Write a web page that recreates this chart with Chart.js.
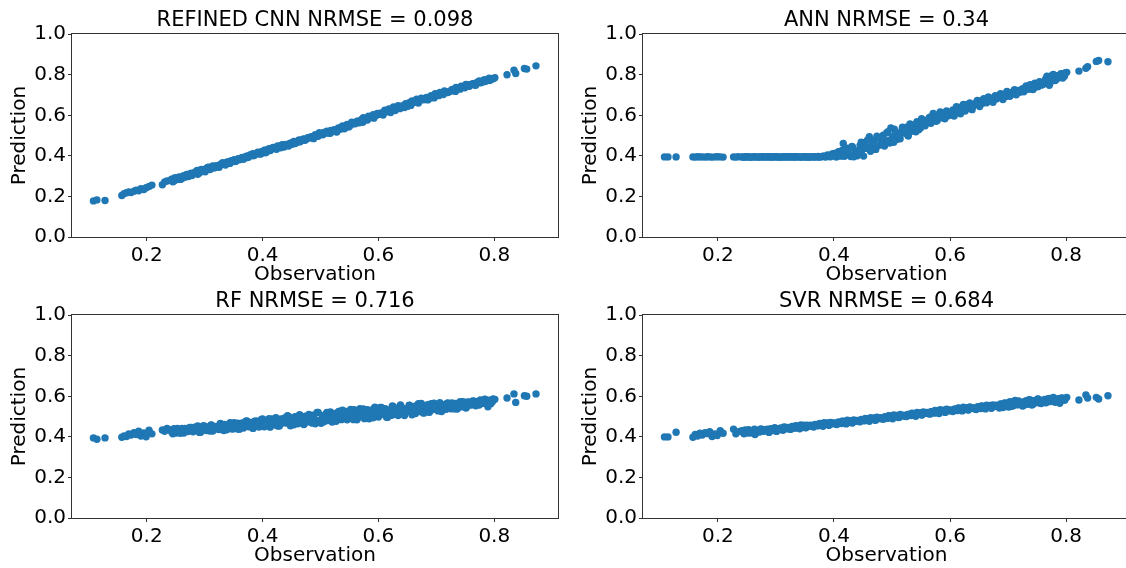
<!DOCTYPE html>
<html>
<head>
<meta charset="utf-8">
<script src="https://cdn.jsdelivr.net/npm/chart.js@4"></script>
<style>
  html, body { margin: 0; padding: 0; background: #fff; overflow: hidden; }
  body { width: 1126px; height: 568px; position: relative; }
  canvas { position: absolute; }
</style>
</head>
<body>
<canvas id="cnn" width="563" height="287" style="left:0;top:0"></canvas>
<canvas id="ann" width="580" height="287" style="left:563px;top:0"></canvas>
<canvas id="rf" width="563" height="287" style="left:0;top:281px"></canvas>
<canvas id="svr" width="580" height="287" style="left:563px;top:281px"></canvas>
<script>
// observed values shared by all four models (two interleaved sample blocks)
const observation = [
  0.108, 0.114, 0.128,
  0.157, 0.161, 0.165, 0.169, 0.173, 0.178, 0.182, 0.186, 0.190, 0.195, 0.199, 0.204, 0.209,
  0.227, 0.231, 0.235,
  0.241, 0.245, 0.248, 0.253, 0.256, 0.261, 0.264, 0.269, 0.272, 0.277,
  0.280, 0.285, 0.288, 0.293, 0.296, 0.301, 0.304, 0.309, 0.312, 0.317,
  0.320, 0.325, 0.328, 0.333, 0.336, 0.341, 0.344, 0.349, 0.352, 0.357,
  0.360, 0.365, 0.368, 0.373, 0.376, 0.381, 0.384, 0.389, 0.392, 0.397,
  0.400, 0.405, 0.408, 0.413, 0.416, 0.421, 0.424, 0.429, 0.432, 0.437,
  0.440, 0.445, 0.448, 0.453, 0.456, 0.461, 0.464, 0.469, 0.472, 0.477,
  0.480, 0.485, 0.488, 0.493, 0.496, 0.501, 0.504, 0.509, 0.512, 0.517,
  0.520, 0.525, 0.528, 0.533, 0.536, 0.541, 0.544, 0.549, 0.552, 0.557,
  0.560, 0.565, 0.568, 0.573, 0.576, 0.581, 0.584, 0.589, 0.592, 0.597,
  0.600, 0.605, 0.608, 0.613, 0.616, 0.621, 0.624, 0.629, 0.632, 0.637,
  0.640, 0.645, 0.648, 0.653, 0.656, 0.661, 0.664, 0.669, 0.672, 0.677,
  0.680, 0.685, 0.688, 0.693, 0.696, 0.701, 0.704, 0.709, 0.712, 0.717,
  0.720, 0.725, 0.728, 0.733, 0.736, 0.741, 0.744, 0.749, 0.752, 0.757,
  0.760, 0.765, 0.768, 0.773, 0.776, 0.781, 0.784, 0.789, 0.792, 0.797,
  0.801,
  0.822, 0.834, 0.837, 0.852, 0.856, 0.872,
  // second block
  0.243, 0.247, 0.251, 0.254, 0.258, 0.263, 0.266, 0.271, 0.274, 0.278,
  0.283, 0.287, 0.291, 0.294, 0.298, 0.303, 0.306, 0.311, 0.314, 0.318,
  0.323, 0.327, 0.331, 0.334, 0.338, 0.343, 0.346, 0.351, 0.354, 0.358,
  0.363, 0.367, 0.371, 0.374, 0.378, 0.383, 0.386, 0.391, 0.394, 0.398,
  0.403, 0.407, 0.411, 0.414, 0.418, 0.423, 0.426, 0.431, 0.434, 0.438,
  0.443, 0.447, 0.451, 0.454, 0.458, 0.463, 0.466, 0.471, 0.474, 0.478,
  0.483, 0.487, 0.491, 0.494, 0.498, 0.503, 0.506, 0.511, 0.514, 0.518,
  0.523, 0.527, 0.531, 0.534, 0.538, 0.543, 0.546, 0.551, 0.554, 0.558,
  0.563, 0.567, 0.571, 0.574, 0.578, 0.583, 0.586, 0.591, 0.594, 0.598,
  0.603, 0.607, 0.611, 0.614, 0.618, 0.623, 0.626, 0.631, 0.634, 0.638,
  0.643, 0.647, 0.651, 0.654, 0.658, 0.663, 0.666, 0.671, 0.674, 0.678,
  0.683, 0.687, 0.691, 0.694, 0.698, 0.703, 0.706, 0.711, 0.714, 0.718,
  0.723, 0.727, 0.731, 0.734, 0.738, 0.743, 0.746, 0.751, 0.754, 0.758,
  0.763, 0.767, 0.771, 0.774, 0.778, 0.783, 0.786, 0.791, 0.794, 0.798
];

const cnnPred = [
  0.178, 0.183, 0.180,
  0.205, 0.214, 0.218, 0.222, 0.219, 0.226, 0.231, 0.228, 0.238, 0.234, 0.243, 0.249, 0.256,
  0.258, 0.272, 0.276,
  0.279, 0.272, 0.291, 0.283, 0.296, 0.288, 0.301, 0.309, 0.298, 0.315,
  0.313, 0.322, 0.309, 0.327, 0.331, 0.322, 0.339, 0.333, 0.346, 0.341,
  0.352, 0.344, 0.359, 0.362, 0.355, 0.371, 0.364, 0.377, 0.372, 0.383,
  0.381, 0.392, 0.388, 0.399, 0.394, 0.406, 0.401, 0.412, 0.418, 0.409,
  0.421, 0.415, 0.431, 0.426, 0.437, 0.442, 0.433, 0.447, 0.452, 0.444,
  0.456, 0.449, 0.463, 0.468, 0.461, 0.474, 0.469, 0.481, 0.477, 0.486,
  0.488, 0.494, 0.485, 0.501, 0.497, 0.509, 0.504, 0.513, 0.519, 0.511,
  0.522, 0.529, 0.518, 0.535, 0.541, 0.534, 0.548, 0.543, 0.556, 0.561,
  0.559, 0.568, 0.574, 0.566, 0.582, 0.577, 0.589, 0.594, 0.586, 0.601,
  0.604, 0.611, 0.601, 0.617, 0.622, 0.614, 0.629, 0.624, 0.637, 0.633,
  0.645, 0.638, 0.652, 0.657, 0.649, 0.663, 0.668, 0.661, 0.674, 0.679,
  0.682, 0.676, 0.689, 0.694, 0.686, 0.701, 0.697, 0.708, 0.703, 0.714,
  0.712, 0.721, 0.727, 0.718, 0.733, 0.729, 0.741, 0.736, 0.748, 0.743,
  0.752, 0.757, 0.749, 0.764, 0.760, 0.771, 0.767, 0.776, 0.772, 0.781,
  0.785,
  0.800, 0.823, 0.806, 0.831, 0.828, 0.844,
  0.285, 0.276, 0.292, 0.289, 0.284, 0.301, 0.295, 0.305, 0.311, 0.303,
  0.318, 0.328, 0.316, 0.333, 0.326, 0.338, 0.344, 0.336, 0.350, 0.343,
  0.347, 0.357, 0.366, 0.358, 0.369, 0.363, 0.376, 0.381, 0.373, 0.386,
  0.389, 0.383, 0.397, 0.392, 0.404, 0.411, 0.403, 0.415, 0.409, 0.421,
  0.428, 0.419, 0.435, 0.429, 0.441, 0.436, 0.449, 0.440, 0.455, 0.449,
  0.452, 0.461, 0.457, 0.471, 0.465, 0.478, 0.473, 0.484, 0.478, 0.490,
  0.493, 0.489, 0.505, 0.498, 0.514, 0.507, 0.516, 0.522, 0.512, 0.526,
  0.528, 0.520, 0.538, 0.531, 0.548, 0.539, 0.555, 0.550, 0.566, 0.558,
  0.571, 0.563, 0.580, 0.588, 0.579, 0.596, 0.590, 0.603, 0.598, 0.609,
  0.610, 0.607, 0.625, 0.618, 0.632, 0.627, 0.641, 0.635, 0.647, 0.642,
  0.648, 0.657, 0.645, 0.663, 0.671, 0.665, 0.680, 0.674, 0.685, 0.677,
  0.688, 0.681, 0.697, 0.691, 0.706, 0.699, 0.713, 0.709, 0.720, 0.712,
  0.718, 0.726, 0.722, 0.737, 0.731, 0.744, 0.739, 0.752, 0.745, 0.751,
  0.756, 0.748, 0.763, 0.769, 0.762, 0.776, 0.771, 0.783, 0.777, 0.780
];

const annPred = [
  0.395, 0.395, 0.395,
  0.395, 0.394, 0.396, 0.395, 0.395, 0.394, 0.396, 0.395, 0.394, 0.395, 0.396, 0.395, 0.394,
  0.395, 0.394, 0.396,
  0.395, 0.394, 0.396, 0.395, 0.394, 0.395, 0.396, 0.394, 0.395, 0.396,
  0.394, 0.395, 0.396, 0.395, 0.394, 0.396, 0.395, 0.394, 0.395, 0.396,
  0.395, 0.394, 0.396, 0.395, 0.396, 0.394, 0.395, 0.396, 0.394, 0.395,
  0.395, 0.396, 0.395, 0.397, 0.395, 0.399, 0.396, 0.404, 0.397, 0.409,
  0.412, 0.396, 0.421, 0.399, 0.461, 0.405, 0.434, 0.397, 0.443, 0.414,
  0.401, 0.452, 0.428, 0.466, 0.437, 0.494, 0.448, 0.476, 0.432, 0.489,
  0.458, 0.502, 0.471, 0.519, 0.463, 0.495, 0.532, 0.482, 0.511, 0.526,
  0.512, 0.541, 0.498, 0.528, 0.552, 0.519, 0.561, 0.537, 0.573, 0.548,
  0.566, 0.591, 0.578, 0.603, 0.571, 0.596, 0.612, 0.586, 0.608, 0.598,
  0.602, 0.627, 0.611, 0.636, 0.618, 0.645, 0.629, 0.652, 0.634, 0.643,
  0.646, 0.662, 0.654, 0.671, 0.659, 0.678, 0.668, 0.685, 0.674, 0.689,
  0.681, 0.697, 0.688, 0.704, 0.693, 0.712, 0.699, 0.716, 0.706, 0.723,
  0.714, 0.731, 0.722, 0.741, 0.728, 0.747, 0.736, 0.754, 0.743, 0.762,
  0.752, 0.781, 0.791, 0.763, 0.798, 0.772, 0.795, 0.786, 0.802, 0.793,
  0.812,
  0.818, 0.832, 0.840, 0.866, 0.870, 0.864,
  0.394, 0.395, 0.396, 0.395, 0.394, 0.396, 0.395, 0.394, 0.395, 0.396,
  0.395, 0.396, 0.394, 0.395, 0.396, 0.395, 0.394, 0.395, 0.396, 0.394,
  0.396, 0.395, 0.394, 0.396, 0.395, 0.394, 0.395, 0.396, 0.395, 0.394,
  0.395, 0.396, 0.395, 0.394, 0.396, 0.398, 0.395, 0.401, 0.396, 0.403,
  0.396, 0.418, 0.401, 0.427, 0.398, 0.438, 0.409, 0.446, 0.396, 0.425,
  0.416, 0.468, 0.399, 0.441, 0.479, 0.423, 0.458, 0.437, 0.497, 0.452,
  0.489, 0.449, 0.514, 0.476, 0.538, 0.467, 0.509, 0.493, 0.484, 0.541,
  0.534, 0.503, 0.557, 0.521, 0.545, 0.569, 0.529, 0.583, 0.553, 0.566,
  0.583, 0.561, 0.609, 0.589, 0.574, 0.617, 0.601, 0.583, 0.622, 0.606,
  0.614, 0.597, 0.642, 0.624, 0.608, 0.654, 0.621, 0.639, 0.661, 0.628,
  0.654, 0.673, 0.643, 0.666, 0.682, 0.662, 0.691, 0.677, 0.664, 0.697,
  0.689, 0.707, 0.678, 0.699, 0.718, 0.694, 0.709, 0.726, 0.701, 0.716,
  0.726, 0.716, 0.745, 0.733, 0.751, 0.727, 0.758, 0.741, 0.766, 0.749,
  0.767, 0.793, 0.748, 0.784, 0.801, 0.777, 0.790, 0.805, 0.784, 0.809
];

const rfPred = [
  0.395, 0.388, 0.395,
  0.398, 0.405, 0.402, 0.414, 0.409, 0.421, 0.412, 0.428, 0.404, 0.419, 0.401, 0.433, 0.415,
  0.434, 0.428, 0.441,
  0.434, 0.415, 0.429, 0.442, 0.425, 0.441, 0.419, 0.436, 0.430, 0.446,
  0.425, 0.443, 0.454, 0.423, 0.440, 0.452, 0.436, 0.429, 0.457, 0.447,
  0.451, 0.436, 0.464, 0.431, 0.459, 0.447, 0.470, 0.439, 0.454, 0.468,
  0.438, 0.469, 0.456, 0.479, 0.450, 0.465, 0.442, 0.479, 0.472, 0.453,
  0.489, 0.461, 0.480, 0.448, 0.489, 0.459, 0.475, 0.454, 0.488, 0.473,
  0.468, 0.501, 0.455, 0.486, 0.500, 0.465, 0.509, 0.482, 0.464, 0.498,
  0.511, 0.468, 0.499, 0.481, 0.520, 0.467, 0.495, 0.512, 0.481, 0.523,
  0.473, 0.515, 0.497, 0.527, 0.485, 0.508, 0.525, 0.493, 0.535, 0.485,
  0.521, 0.495, 0.539, 0.508, 0.490, 0.534, 0.489, 0.522, 0.540, 0.508,
  0.498, 0.545, 0.514, 0.537, 0.497, 0.525, 0.553, 0.511, 0.536, 0.526,
  0.546, 0.505, 0.537, 0.556, 0.521, 0.548, 0.515, 0.563, 0.533, 0.521,
  0.529, 0.559, 0.522, 0.545, 0.566, 0.538, 0.559, 0.525, 0.557, 0.536,
  0.567, 0.539, 0.553, 0.565, 0.537, 0.574, 0.550, 0.563, 0.546, 0.571,
  0.557, 0.576, 0.553, 0.571, 0.582, 0.566, 0.586, 0.548, 0.581, 0.575,
  0.585,
  0.592, 0.612, 0.570, 0.603, 0.600, 0.612,
  0.424, 0.440, 0.419, 0.435, 0.418, 0.433, 0.441, 0.426, 0.447, 0.431,
  0.448, 0.435, 0.422, 0.448, 0.455, 0.431, 0.446, 0.459, 0.429, 0.445,
  0.438, 0.466, 0.447, 0.461, 0.435, 0.457, 0.440, 0.470, 0.462, 0.438,
  0.461, 0.444, 0.477, 0.454, 0.471, 0.442, 0.477, 0.464, 0.449, 0.486,
  0.450, 0.471, 0.490, 0.460, 0.470, 0.495, 0.454, 0.484, 0.469, 0.493,
  0.504, 0.467, 0.491, 0.460, 0.485, 0.504, 0.480, 0.461, 0.502, 0.474,
  0.482, 0.507, 0.465, 0.520, 0.478, 0.503, 0.474, 0.521, 0.498, 0.489,
  0.514, 0.477, 0.524, 0.500, 0.531, 0.491, 0.484, 0.512, 0.500, 0.534,
  0.484, 0.520, 0.502, 0.538, 0.495, 0.529, 0.519, 0.494, 0.546, 0.515,
  0.545, 0.511, 0.539, 0.497, 0.530, 0.507, 0.549, 0.523, 0.505, 0.557,
  0.513, 0.537, 0.528, 0.555, 0.509, 0.551, 0.537, 0.525, 0.565, 0.517,
  0.550, 0.522, 0.563, 0.535, 0.549, 0.528, 0.569, 0.546, 0.536, 0.565,
  0.547, 0.567, 0.538, 0.562, 0.558, 0.548, 0.574, 0.542, 0.572, 0.559,
  0.577, 0.564, 0.575, 0.557, 0.565, 0.585, 0.565, 0.580, 0.563, 0.587
];

const svrPred = [
  0.400, 0.400, 0.423,
  0.398, 0.412, 0.404, 0.418, 0.409, 0.421, 0.416, 0.426, 0.402, 0.414, 0.407, 0.431, 0.418,
  0.438, 0.415, 0.426,
  0.431, 0.415, 0.427, 0.436, 0.419, 0.428, 0.412, 0.433, 0.424, 0.437,
  0.429, 0.438, 0.422, 0.435, 0.441, 0.427, 0.437, 0.444, 0.433, 0.446,
  0.446, 0.437, 0.451, 0.443, 0.454, 0.440, 0.449, 0.457, 0.446, 0.455,
  0.457, 0.449, 0.461, 0.455, 0.466, 0.452, 0.462, 0.469, 0.458, 0.467,
  0.469, 0.461, 0.472, 0.466, 0.477, 0.464, 0.474, 0.480, 0.470, 0.479,
  0.481, 0.474, 0.485, 0.479, 0.490, 0.477, 0.487, 0.493, 0.483, 0.492,
  0.494, 0.487, 0.498, 0.492, 0.503, 0.489, 0.500, 0.506, 0.496, 0.505,
  0.507, 0.500, 0.511, 0.505, 0.516, 0.502, 0.513, 0.519, 0.509, 0.518,
  0.520, 0.512, 0.524, 0.517, 0.529, 0.515, 0.526, 0.532, 0.521, 0.531,
  0.533, 0.525, 0.537, 0.530, 0.541, 0.528, 0.538, 0.544, 0.534, 0.543,
  0.543, 0.535, 0.547, 0.540, 0.551, 0.538, 0.548, 0.555, 0.544, 0.553,
  0.556, 0.542, 0.561, 0.549, 0.566, 0.547, 0.571, 0.553, 0.580, 0.558,
  0.566, 0.552, 0.574, 0.561, 0.583, 0.557, 0.578, 0.569, 0.586, 0.564,
  0.579, 0.568, 0.587, 0.574, 0.590, 0.571, 0.584, 0.566, 0.592, 0.581,
  0.595,
  0.582, 0.607, 0.592, 0.595, 0.587, 0.603,
  0.423, 0.434, 0.419, 0.429, 0.426, 0.438, 0.421, 0.432, 0.439, 0.428,
  0.436, 0.426, 0.440, 0.431, 0.445, 0.434, 0.442, 0.437, 0.449, 0.440,
  0.440, 0.449, 0.444, 0.455, 0.447, 0.459, 0.451, 0.445, 0.458, 0.452,
  0.452, 0.460, 0.456, 0.464, 0.459, 0.470, 0.463, 0.457, 0.471, 0.465,
  0.464, 0.473, 0.468, 0.477, 0.471, 0.482, 0.475, 0.469, 0.484, 0.478,
  0.476, 0.486, 0.481, 0.491, 0.484, 0.495, 0.488, 0.482, 0.497, 0.490,
  0.489, 0.498, 0.494, 0.504, 0.497, 0.508, 0.501, 0.495, 0.510, 0.503,
  0.502, 0.511, 0.507, 0.517, 0.510, 0.521, 0.514, 0.508, 0.523, 0.516,
  0.515, 0.524, 0.520, 0.530, 0.523, 0.534, 0.527, 0.521, 0.536, 0.529,
  0.528, 0.537, 0.533, 0.543, 0.536, 0.546, 0.539, 0.532, 0.547, 0.541,
  0.538, 0.547, 0.543, 0.552, 0.545, 0.556, 0.549, 0.541, 0.557, 0.551,
  0.549, 0.562, 0.545, 0.567, 0.555, 0.574, 0.551, 0.568, 0.559, 0.577,
  0.570, 0.556, 0.578, 0.565, 0.582, 0.561, 0.575, 0.587, 0.567, 0.580,
  0.585, 0.572, 0.589, 0.578, 0.594, 0.576, 0.588, 0.580, 0.591, 0.583
];

const xTicks = [0.2, 0.4, 0.6, 0.8];
const yTicks = [0, 0.2, 0.4, 0.6, 0.8, 1.0];
const X_MIN = 0.071, X_MAX = 0.910;

const FONT = { family: "'DejaVu Sans', sans-serif", size: 20, weight: "normal" };
const TITLE_FONT = { family: "'DejaVu Sans', sans-serif", size: 21, weight: "normal" };
const BLUE = "#1f77b4";
const SPINE = "#333";

// box around the plotting area, like matplotlib spines
const frame = {
  id: "frame",
  afterDatasetsDraw(chart) {
    const { ctx, chartArea: a } = chart;
    ctx.save();
    ctx.strokeStyle = SPINE;
    ctx.lineWidth = 1;
    ctx.strokeRect(Math.round(a.left) - 0.5, Math.round(a.top) - 0.5,
      Math.round(a.right - a.left) + 1, Math.round(a.bottom - a.top) + 1);
    ctx.restore();
  },
};

function scatterPanel(id, title, pred, rightCol) {
  const points = observation.map((x, i) => ({ x, y: pred[i] }));
  new Chart(document.getElementById(id), {
    type: "scatter",
    data: {
      datasets: [{
        data: points,
        backgroundColor: BLUE,
        borderColor: BLUE,
        borderWidth: 0,
        pointRadius: 3.7,
        pointHoverRadius: 3.7,
      }],
    },
    options: {
      responsive: false,
      animation: false,
      events: [],
      layout: { padding: { left: rightCol ? 8 : 0, right: rightCol ? 13 : 5, top: 0, bottom: 0 } },
      plugins: {
        legend: { display: false },
        tooltip: { enabled: false },
        title: {
          display: true, text: title, fullSize: false, color: "#000",
          font: TITLE_FONT, padding: { top: 8, bottom: 1 },
        },
      },
      scales: {
        x: {
          type: "linear", min: X_MIN, max: X_MAX,
          afterBuildTicks: (s) => { s.ticks = xTicks.map((v) => ({ value: v })); },
          afterFit: (s) => { s.height = 50; },
          ticks: { font: FONT, color: "#000", padding: 3, autoSkip: false, maxRotation: 0,
            callback: (v) => v.toFixed(1) },
          grid: { drawOnChartArea: false, drawTicks: true, tickLength: 4, color: SPINE },
          border: { display: false },
          title: { display: true, text: "Observation", font: FONT, color: "#000", padding: 0 },
        },
        y: {
          type: "linear", min: 0, max: 1,
          afterBuildTicks: (s) => { s.ticks = yTicks.map((v) => ({ value: v })); },
          afterFit: (s) => { s.width = 72; },
          ticks: { font: FONT, color: "#000", padding: 2, autoSkip: false,
            callback: (v) => v.toFixed(1) },
          grid: { drawOnChartArea: false, drawTicks: true, tickLength: 4, color: SPINE },
          border: { display: false },
          title: { display: true, text: "Prediction", font: FONT, color: "#000", padding: { top: 8, bottom: 0 } },
        },
      },
    },
    plugins: [frame],
  });
}

scatterPanel("cnn", "REFINED CNN NRMSE = 0.098", cnnPred, false);
scatterPanel("ann", "ANN NRMSE = 0.34", annPred, true);
scatterPanel("rf", "RF NRMSE = 0.716", rfPred, false);
scatterPanel("svr", "SVR NRMSE = 0.684", svrPred, true);
</script>
</body>
</html>
